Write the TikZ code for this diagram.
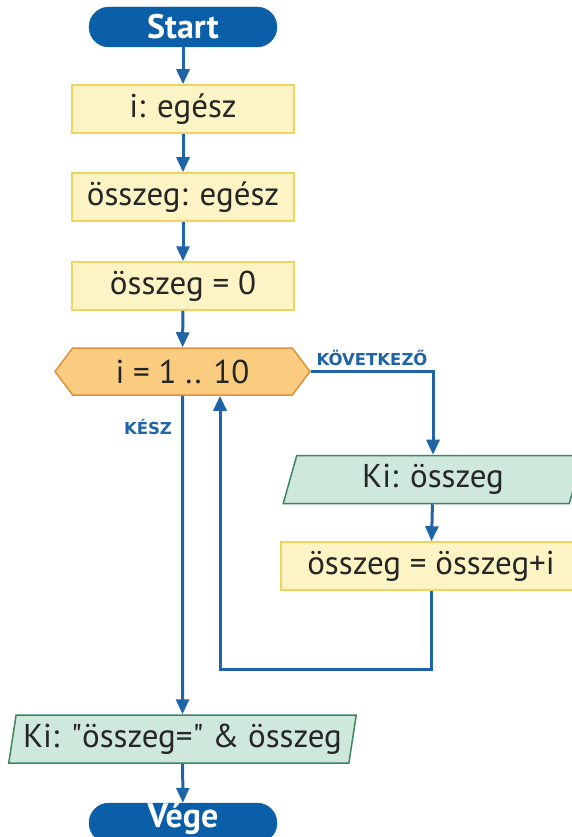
\documentclass[tikz,border=0pt]{standalone}
\usepackage{fontspec}
\setmainfont{PT Sans}
\newfontfamily\labelfont{DejaVu Sans}
\usetikzlibrary{arrows.meta,shapes.geometric,shapes.symbols}
\definecolor{termblue}{HTML}{0B5FA8}
\definecolor{flowblue}{HTML}{1E64A6}
\definecolor{boxfill}{HTML}{FDF4C6}
\definecolor{boxline}{HTML}{EFD55F}
\definecolor{loopfill}{HTML}{F9CC80}
\definecolor{loopline}{HTML}{DF8F3B}
\definecolor{iofill}{HTML}{CFE8DC}
\definecolor{ioline}{HTML}{3D8565}

\begin{document}
\begin{tikzpicture}[x=1pt, y=-1pt,
    terminal/.style={fill=termblue, draw=termblue, rounded corners=20pt,
      minimum width=188pt, minimum height=40pt, inner sep=0pt,
      text=white, font=\fontsize{34}{36}\selectfont\bfseries},
    process/.style={fill=boxfill, draw=boxline, line width=1.5pt,
      minimum height=48pt, inner sep=0pt, text=black!85,
      font=\fontsize{33}{35}\selectfont},
    loopbox/.style={signal, signal to=west and east, signal pointer angle=106,
      fill=loopfill, draw=loopline, line width=1.5pt, minimum width=255pt,
      minimum height=47pt, inner sep=0pt, text=black!85,
      font=\fontsize{33}{35}\selectfont},
    iobox/.style={trapezium, trapezium left angle=77, trapezium right angle=103,
      trapezium stretches=true, fill=iofill, draw=ioline, line width=1.5pt,
      minimum height=48pt, inner sep=0pt, text=black!85,
      font=\fontsize{33}{35}\selectfont},
    branch/.style={text=flowblue, font=\labelfont\fontsize{16.5}{18}\selectfont\bfseries},
    flow/.style={draw=flowblue, line width=3pt,
      -{Triangle[width=13pt,length=15pt]}}
  ]
  \useasboundingbox (0,0) rectangle (571,837);

  % Define nodes
  \node[terminal] (start) at (183,27) {Start};                     % Start
  \node[process, minimum width=222pt] (idecl) at (183,109) {i: egész};
  \node[process, minimum width=222pt] (sumdecl) at (183,197) {összeg: egész};
  \node[process, minimum width=222pt] (suminit) at (183,286) {összeg = 0};
  \node[loopbox] (loop) at (182.5,371.5) {i = 1 .. 10};            % ciklus
  \node[iobox, minimum width=300pt] (kisum) at (433,479.5) {Ki: összeg};
  \node[process, minimum width=300pt] (sumadd) at (431,566) {összeg = összeg+i};
  \node[iobox, minimum width=349pt] (kiout) at (182.5,739)
    {Ki: \textquotedbl összeg=\textquotedbl{} \& összeg};
  \node[terminal, text height=19pt, text depth=10pt] (stop) at (183,823) {Vége}; % Vége

  % Branch labels
  \node[branch] (next) at (372,358) {KÖVETKEZŐ};
  \node[branch] (done) at (148,427) {KÉSZ};
  \coordinate (backcorner) at (220,669);

  % Connect nodes with arrows
  \draw[flow] (start) -- (idecl);
  \draw[flow] (idecl) -- (sumdecl);
  \draw[flow] (sumdecl) -- (suminit);
  \draw[flow] (suminit) -- (loop);
  \draw[flow] (loop.east) -| (kisum.north);
  \draw[flow] (kisum) -- (sumadd);
  \draw[flow] (sumadd.south) |- (backcorner) -- (loop.south -| backcorner);
  \draw[flow] (loop.south) -- (kiout.north);
  \draw[flow] (kiout) -- (stop);
\end{tikzpicture}
\end{document}
